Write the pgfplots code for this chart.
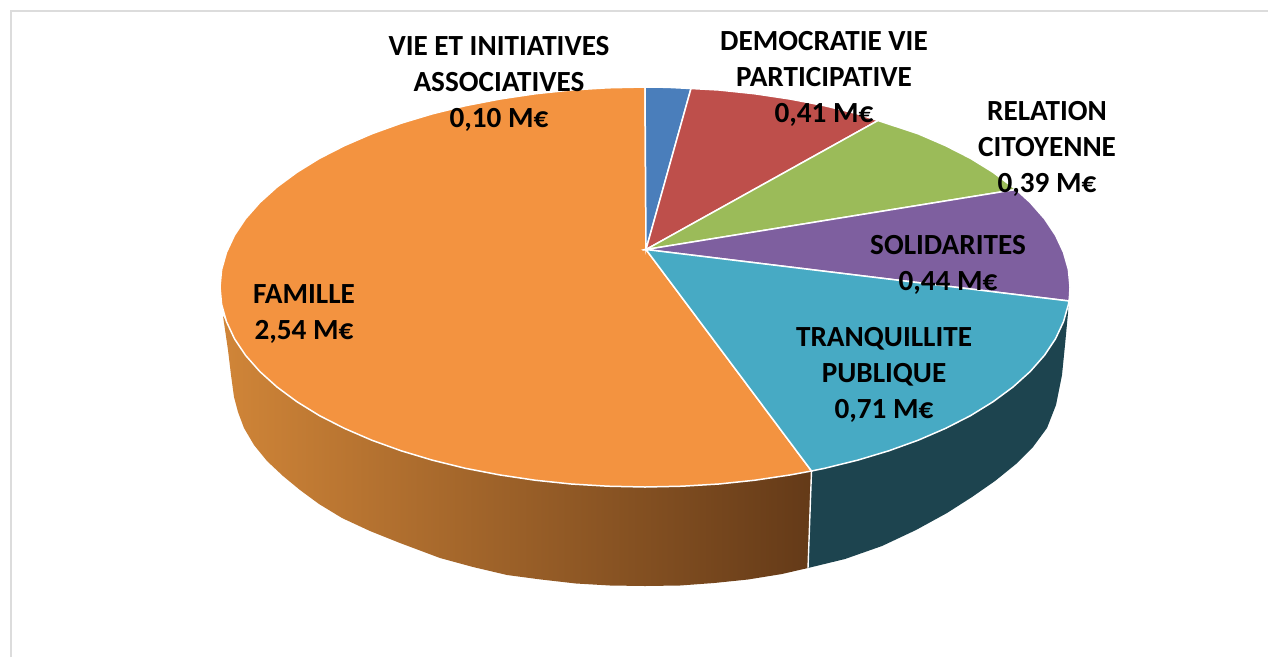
\documentclass[border=0pt]{standalone}
\usepackage{pgfplots}
\pgfplotsset{compat=1.18}
\usepackage{fontspec}
\setmainfont{Carlito}
\definecolor{cBlue}{HTML}{4A7EBB}
\definecolor{cRed}{HTML}{BE4F4B}
\definecolor{cGreen}{HTML}{9BBB59}
\definecolor{cPurple}{HTML}{7E5F9F}
\definecolor{cTeal}{HTML}{47AAC4}
\definecolor{cOrange}{HTML}{F39340}
\definecolor{cDarkTeal}{HTML}{1D444F}
\definecolor{cFrame}{HTML}{DCDCDC}
\definecolor{cSideL}{HTML}{D08538}
\definecolor{cSideM}{HTML}{9E632C}
\definecolor{cSideR}{HTML}{643A18}
\tikzset{lab/.style={font=\fontsize{29.2}{36}\selectfont\bfseries, align=center, text=black, inner sep=0pt, anchor=center}}
\begin{document}
\begin{tikzpicture}
\useasboundingbox (0,0) rectangle (1268pt,657pt);
\begin{axis}[
  at={(0,0)}, anchor=south west,
  scale only axis, width=1268pt, height=657pt,
  xmin=0, xmax=1268, ymin=0, ymax=657, y dir=reverse,
  hide axis,
  every axis plot/.append style={mark=none},
]
% frame
\addplot[cFrame, line width=1.6pt] coordinates {(11,657) (11,11) (1268,11)};
% side: orange
\addplot[draw=none, left color=cSideL, middle color=cSideM, right color=cSideR] coordinates {
 (223,316) (226.5,321.7) (234.5,338.8) (245.6,355.4) (259.8,371.5) (277,387) (296.9,401.7) (319.4,415.6)
 (344.5,428.4) (371.8,440.2) (401.2,450.8) (432.5,460.2) (465.4,468.3) (499.6,474.9) (535,480.2) (571.2,484)
 (607.9,486.2) (645,487) (682.1,486.2) (718.8,484) (755,480.2) (790.4,474.9) (811.5,471)
 (808,568) (782,574) (748,579.5) (714,583) (680,585.5) (645,586) (610,585.5) (576,583.5) (541,579.5) (507,575)
 (473,567) (440,558) (400,543) (370,531) (342,518) (319,504) (300,490) (283,476) (267,461) (254,445) (244,428)
 (238,412) (234,397) (231,375) (228,350)
} -- cycle;
% side: dark teal
\addplot[draw=none, fill=cDarkTeal] coordinates {
 (1068.4,304.4) (1063.5,321.7) (1055.5,338.8) (1044.4,355.4) (1030.2,371.5) (1013,387) (993.1,401.7) (970.6,415.6)
 (945.5,428.4) (918.2,440.2) (888.8,450.8) (857.5,460.2) (824.6,468.3) (811.5,471)
 (808,568) (845,559) (882,546) (916,530) (947,513) (972,497) (995,481) (1016,464) (1033,447) (1047,428)
 (1056,405) (1062,375) (1065,345) (1068,313)
} -- cycle;
% white seam between the side pieces and along the rim
\addplot[white, line width=1.4pt] coordinates {(811.5,471) (808,568)};
% top: FAMILLE
\addplot[draw=white, line width=1.5pt, fill=cOrange] coordinates {
 (646,249.5) (645,87) (607.9,87.8) (571.2,90) (535,93.8) (499.6,99.1) (465.4,105.7) (432.5,113.8) (401.2,123.2)
 (371.8,133.8) (344.5,145.6) (319.4,158.4) (296.9,172.3) (277,187) (259.8,202.5) (245.6,218.6) (234.5,235.2)
 (226.5,252.3) (221.6,269.6) (220,287) (221.6,304.4) (226.5,321.7) (234.5,338.8) (245.6,355.4) (259.8,371.5)
 (277,387) (296.9,401.7) (319.4,415.6) (344.5,428.4) (371.8,440.2) (401.2,450.8) (432.5,460.2) (465.4,468.3)
 (499.6,474.9) (535,480.2) (571.2,484) (607.9,486.2) (645,487) (682.1,486.2) (718.8,484) (755,480.2) (790.4,474.9)
 (811.5,471)
} -- cycle;
% top: VIE ET INITIATIVES ASSOCIATIVES
\addplot[draw=white, line width=1.5pt, fill=cBlue] coordinates {
 (646,249.5) (645,87) (667,87.3) (691,88.5)
} -- cycle;
% top: DEMOCRATIE VIE PARTICIPATIVE
\addplot[draw=white, line width=1.5pt, fill=cRed] coordinates {
 (646,249.5) (691,88.5) (718.8,90) (755,93.8) (790.4,99.1) (824.6,105.7) (857.5,113.8) (878,120.5)
} -- cycle;
% top: RELATION CITOYENNE
\addplot[draw=white, line width=1.5pt, fill=cGreen] coordinates {
 (646,249.5) (878,120.5) (918.2,133.8) (945.5,145.6) (970.6,158.4) (993.1,172.3) (1016,189.5)
} -- cycle;
% top: SOLIDARITES
\addplot[draw=white, line width=1.5pt, fill=cPurple] coordinates {
 (646,249.5) (1016,189.5) (1030.2,202.5) (1044.4,218.6) (1055.5,235.2) (1063.5,252.3) (1068.4,269.6) (1070,287) (1069.4,297.5) (1069,301)
} -- cycle;
% top: TRANQUILLITE PUBLIQUE
\addplot[draw=white, line width=1.5pt, fill=cTeal] coordinates {
 (646,249.5) (1069,301) (1068.4,304.4) (1063.5,321.7) (1055.5,338.8) (1044.4,355.4) (1030.2,371.5) (1013,387)
 (993.1,401.7) (970.6,415.6) (945.5,428.4) (918.2,440.2) (888.8,450.8) (857.5,460.2) (824.6,468.3) (811.5,471)
} -- cycle;
% labels
\node[lab] at (axis cs:499,84) {VIE ET INITIATIVES\\ASSOCIATIVES\\0,10 M€};
\node[lab] at (axis cs:824,79) {DEMOCRATIE VIE\\PARTICIPATIVE\\0,41 M€};
\node[lab] at (axis cs:1047,149) {RELATION\\CITOYENNE\\0,39 M€};
\node[lab] at (axis cs:948,264.5) {SOLIDARITES\\0,44 M€};
\node[lab] at (axis cs:884,374.5) {TRANQUILLITE\\PUBLIQUE\\0,71 M€};
\node[lab] at (axis cs:304,313.5) {FAMILLE\\2,54 M€};
\end{axis}
\end{tikzpicture}
\end{document}
